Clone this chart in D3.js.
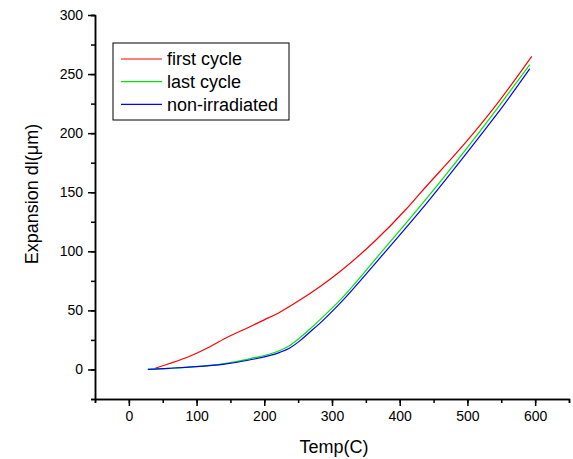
<!DOCTYPE html>
<meta charset="utf-8">
<style>
    body {
        margin: 0;
        background: #fff;
        font-family: "Liberation Sans", Arial, sans-serif;
    }

    .axis path,
    .axis line {
        fill: none;
        stroke: #000;
        stroke-width: 1.5px;
    }

    .axis text {
        font-family: "Liberation Sans", Arial, sans-serif;
        font-size: 14px;
        fill: #000;
    }

    .series {
        fill: none;
        stroke-width: 1.2px;
    }
</style>
<body>
    <script src="https://cdn.jsdelivr.net/npm/d3@7"></script>
    <script>

        // readings taken off the plot: [Temp(C), dl(um)]
        var firstCycle = [
            [39, 1], [60, 5], [89, 11], [119, 19], [141, 26], [178, 36],
            [200, 42], [223, 48.5], [252, 58.5], [282, 70], [311, 82.5], [363, 108.5],
            [410, 136], [430, 149], [509, 200], [548, 228], [595, 265]
        ];
        var lastCycle = [
            [28, 0], [60, 1], [89, 2], [141, 5], [178, 9], [223, 16], [237, 20],
            [252, 26.5], [267, 34], [282, 42], [314, 60], [371, 98], [430, 138],
            [519, 202], [548, 224], [592, 258]
        ];
        var nonIrradiated = [
            [28, 0], [60, 1], [89, 2], [141, 4.5], [178, 8], [223, 14.5], [237, 18],
            [252, 24], [267, 31.5], [282, 39], [311, 55.5], [371, 94.5], [430, 134],
            [519, 198], [548, 219.5], [592, 254.5]
        ];

        var seriesNames = ["first cycle", "last cycle", "non-irradiated"];
        var seriesColors = ["#ff0000", "#00e600", "#0000ff"];
        var xTicks = [0, 100, 200, 300, 400, 500, 600];
        var yTicks = [0, 50, 100, 150, 200, 250, 300];

        var width = 573, height = 459;
        var margin = { left: 95, right: 569, top: 15, bottom: 399 };

        var x = d3.scaleLinear().domain([-50, 650]).range([margin.left, margin.right]);
        var y = d3.scaleLinear().domain([-25, 300]).range([margin.bottom, margin.top]);

        var svg = d3.select("body").append("svg")
            .attr("width", width)
            .attr("height", height);

        // minor ticks first, then the major axis on top
        svg.append("g")
            .attr("class", "axis")
            .attr("transform", "translate(0," + margin.bottom + ")")
            .call(d3.axisBottom(x).tickValues(d3.range(-50, 651, 50)).tickSize(4).tickFormat(""));

        svg.append("g")
            .attr("class", "axis")
            .attr("transform", "translate(0," + margin.bottom + ")")
            .call(d3.axisBottom(x).tickValues(xTicks).tickSizeInner(7).tickSizeOuter(0).tickPadding(5));

        svg.append("g")
            .attr("class", "axis")
            .attr("transform", "translate(" + margin.left + ",0)")
            .call(d3.axisLeft(y).tickValues(d3.range(-25, 301, 25)).tickSize(4).tickFormat(""));

        svg.append("g")
            .attr("class", "axis")
            .attr("transform", "translate(" + margin.left + ",0)")
            .call(d3.axisLeft(y).tickValues(yTicks).tickSizeInner(7).tickSizeOuter(0).tickPadding(5));

        // axis titles
        svg.append("text")
            .attr("x", 334)
            .attr("y", 453)
            .attr("text-anchor", "middle")
            .style("font-size", "18px")
            .text("Temp(C)");

        svg.append("text")
            .attr("transform", "translate(38,194) rotate(-90)")
            .attr("text-anchor", "middle")
            .style("font-size", "18px")
            .text("Expansion dl(\u03bcm)");

        // curves
        var line = d3.line()
            .x(function (d) { return x(d[0]); })
            .y(function (d) { return y(d[1]); })
            .curve(d3.curveMonotoneX);

        var series = [firstCycle, lastCycle, nonIrradiated];

        svg.selectAll(".series")
            .data(series)
            .enter().append("path")
            .attr("class", "series")
            .attr("stroke", function (d, i) { return seriesColors[i]; })
            .attr("d", line);

        // legend
        var legend = svg.append("g").attr("transform", "translate(113,43)");

        legend.append("rect")
            .attr("width", 176)
            .attr("height", 77)
            .attr("fill", "#fff")
            .attr("stroke", "#000")
            .attr("stroke-width", 1);

        var rows = legend.selectAll(".row")
            .data(seriesNames)
            .enter().append("g")
            .attr("class", "row")
            .attr("transform", function (d, i) { return "translate(0," + (16 + i * 22.7) + ")"; });

        rows.append("line")
            .attr("x1", 8)
            .attr("x2", 49)
            .attr("stroke", function (d, i) { return seriesColors[i]; })
            .attr("stroke-width", 1.2);

        rows.append("text")
            .attr("x", 54)
            .attr("dy", "0.35em")
            .style("font-size", "18px")
            .text(function (d) { return d; });

    </script>
</body>
